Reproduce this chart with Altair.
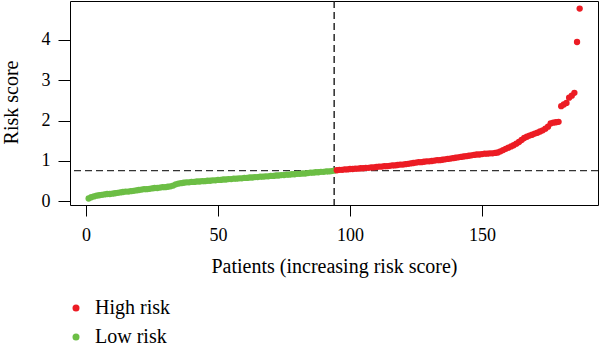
import altair as alt
import pandas as pd

# Risk scores, sorted ascending (patients 1..187)
low_risk_scores = [
    0.07, 0.10, 0.12, 0.14, 0.15, 0.16, 0.17, 0.18, 0.18, 0.19,
    0.20, 0.21, 0.22, 0.23, 0.24, 0.24, 0.25, 0.26, 0.27, 0.28,
    0.29, 0.30, 0.30, 0.31, 0.32, 0.33, 0.33, 0.34, 0.35, 0.35,
    0.36, 0.37, 0.39, 0.42, 0.44, 0.45, 0.46, 0.47, 0.47, 0.48,
    0.48, 0.49, 0.49, 0.50, 0.50, 0.51, 0.51, 0.52, 0.52, 0.53,
    0.53, 0.54, 0.54, 0.55, 0.55, 0.56, 0.56, 0.57, 0.57, 0.58,
    0.58, 0.59, 0.59, 0.60, 0.60, 0.61, 0.61, 0.62, 0.62, 0.63,
    0.63, 0.64, 0.64, 0.65, 0.65, 0.66, 0.66, 0.67, 0.67, 0.68,
    0.68, 0.69, 0.69, 0.70, 0.71, 0.71, 0.72, 0.72, 0.73, 0.73,
    0.74, 0.74, 0.75, 0.76,
]
high_risk_scores = [
    0.77, 0.78, 0.78, 0.79, 0.79, 0.80, 0.80, 0.81, 0.81, 0.82,
    0.82, 0.83, 0.83, 0.84, 0.84, 0.85, 0.86, 0.86, 0.87, 0.87,
    0.88, 0.89, 0.89, 0.90, 0.91, 0.91, 0.92, 0.93, 0.94, 0.95,
    0.96, 0.97, 0.97, 0.98, 0.99, 0.99, 1.00, 1.01, 1.02, 1.02,
    1.03, 1.04, 1.05, 1.06, 1.07, 1.08, 1.09, 1.10, 1.11, 1.12,
    1.13, 1.14, 1.15, 1.16, 1.16, 1.17, 1.18, 1.18, 1.19, 1.19,
    1.20, 1.21, 1.24, 1.27, 1.30, 1.33, 1.36, 1.39, 1.43, 1.47,
    1.52, 1.57, 1.60, 1.63, 1.65, 1.68, 1.70, 1.73, 1.76, 1.80,
    1.85, 1.93, 1.95, 1.96, 1.97, 2.36, 2.40, 2.44, 2.57, 2.62,
    2.69, 3.95, 4.78,
]
groups = ["High risk", "Low risk"]
group_colors = ["#EC1C24", "#6CBE45"]
cutoff_patient = [94]
cutoff_score = [0.76]
x_ticks = [0, 50, 100, 150]
y_ticks = [0, 1, 2, 3, 4]

scores = low_risk_scores + high_risk_scores
df = pd.DataFrame({
    "patient": list(range(1, len(scores) + 1)),
    "score": scores,
    "group": ["Low risk"] * len(low_risk_scores) + ["High risk"] * len(high_risk_scores),
})

FONT = "Liberation Serif"
xscale = alt.Scale(domain=[-6.06, 193.94], nice=False, zero=False)
yscale = alt.Scale(domain=[-0.092, 4.967], nice=False, zero=False)

points = alt.Chart(df).mark_circle(size=40, opacity=1).encode(
    x=alt.X("patient:Q", scale=xscale,
            axis=alt.Axis(values=x_ticks, title="Patients (increasing risk score)",
                          grid=False, domain=False, tickSize=11, tickColor="black",
                          labelFont=FONT, labelFontSize=18, labelColor="black",
                          labelBaseline="alphabetic", labelPadding=24,
                          titleFont=FONT, titleFontSize=20, titleFontWeight="normal",
                          titleColor="black", titleX=264, titleY=67,
                          titleBaseline="alphabetic", titleAlign="center")),
    y=alt.Y("score:Q", scale=yscale,
            axis=alt.Axis(values=y_ticks, title="Risk score",
                          grid=False, domain=False, tickSize=12, tickColor="black",
                          labelFont=FONT, labelFontSize=18, labelColor="black",
                          labelPadding=8,
                          titleFont=FONT, titleFontSize=20, titleFontWeight="normal",
                          titleColor="black", titleAngle=270, titleX=-53, titleY=101,
                          titleBaseline="alphabetic", titleAlign="center")),
    color=alt.Color("group:N", scale=alt.Scale(domain=groups, range=group_colors),
                    legend=alt.Legend(title=None, orient="none", legendX=-4, legendY=297,
                                      symbolType="circle", symbolSize=49,
                                      symbolStrokeWidth=0,
                                      labelFont=FONT, labelFontSize=20, labelColor="black",
                                      labelOffset=9, rowPadding=9, padding=0)),
)

vline = alt.Chart(pd.DataFrame({"cut": cutoff_patient})).mark_rule(
    color="#1a1a1a", strokeDash=[7, 4], strokeWidth=1.4
).encode(x=alt.X("cut:Q", scale=xscale))

hline = alt.Chart(pd.DataFrame({"cut": cutoff_score})).mark_rule(
    color="#333333", strokeDash=[7, 4], strokeWidth=1.4
).encode(y=alt.Y("cut:Q", scale=yscale))

chart = alt.layer(hline, vline, points).properties(
    width=528, height=204,
    autosize="none",
    padding={"left": 70, "top": 1, "right": 2, "bottom": 145},
    background="white",
).configure_view(stroke="black", strokeWidth=1)

chart.save("out.html", embed_options={"renderer": "svg", "actions": False})
